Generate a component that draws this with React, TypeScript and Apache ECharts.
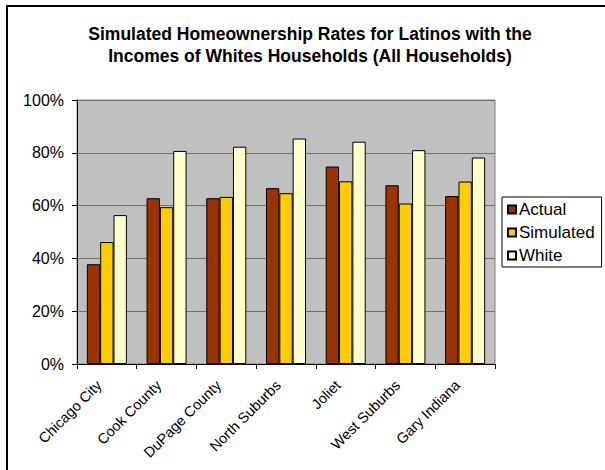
import React, { useEffect, useRef } from "react";
import * as echarts from "echarts";

const categories = [
  "Chicago City",
  "Cook County",
  "DuPage County",
  "North Suburbs",
  "Joliet",
  "West Suburbs",
  "Gary Indiana",
];
const actual = [37.8, 62.8, 62.8, 66.6, 74.8, 67.7, 63.6];
const simulated = [46.2, 59.4, 63.3, 64.7, 69.2, 60.8, 69.1];
const white = [56.4, 80.7, 82.3, 85.4, 84.2, 81.0, 78.2];
const yTicks = { min: 0, max: 100, interval: 20 };

const FONT = "'Liberation Sans', Arial, Helvetica, sans-serif";

export default function App() {
  const ref = useRef<HTMLDivElement>(null);

  useEffect(() => {
    if (!ref.current) return;
    const chart = echarts.init(ref.current, undefined, { renderer: "svg" });
    const barStyle = (color: string) => ({
      color,
      borderColor: "#000",
      borderWidth: 1,
    });
    chart.setOption({
      animation: false,
      backgroundColor: "#fff",
      textStyle: { fontFamily: FONT },
      title: {
        text: "Simulated Homeownership Rates for Latinos with the\nIncomes of Whites Households (All Households)",
        left: 305,
        top: 18,
        textAlign: "center",
        textStyle: {
          fontFamily: FONT,
          fontSize: 17.5,
          fontWeight: "bold",
          lineHeight: 22,
          color: "#000",
        },
      },
      graphic: [
        {
          type: "rect",
          shape: { x: 7, y: 6, width: 700, height: 600 },
          style: { fill: "none", stroke: "#000", lineWidth: 2 },
          silent: true,
        },
      ],
      legend: {
        orient: "vertical",
        left: 502,
        top: 197,
        itemWidth: 8,
        itemHeight: 8,
        itemGap: 6,
        padding: [4, 7, 3, 5],
        borderColor: "#000",
        borderWidth: 1,
        backgroundColor: "#fff",
        icon: "rect",
        textStyle: { fontFamily: FONT, fontSize: 17, color: "#000", padding: [0, 0, 0, -2] },
        data: ["Actual", "Simulated", "White"],
      },
      grid: {
        left: 77,
        top: 100,
        width: 418,
        height: 264,
        show: true,
        backgroundColor: "#C0C0C0",
        borderColor: "#808080",
        borderWidth: 1,
      },
      xAxis: {
        type: "category",
        data: categories,
        axisLine: { lineStyle: { color: "#000", width: 1 } },
        axisTick: { show: true, length: 5, lineStyle: { color: "#000" } },
        axisLabel: {
          rotate: 45,
          interval: 0,
          fontSize: 14.5,
          color: "#000",
          fontFamily: FONT,
          margin: 11,
          padding: [0, 11, 0, 0],
        },
      },
      yAxis: {
        type: "value",
        min: yTicks.min,
        max: yTicks.max,
        interval: yTicks.interval,
        axisLine: { show: true, lineStyle: { color: "#000", width: 1 } },
        axisTick: { show: true, length: 5, lineStyle: { color: "#000" } },
        axisLabel: {
          formatter: "{value}%",
          fontSize: 16,
          color: "#000",
          fontFamily: FONT,
          margin: 13,
        },
        splitLine: { show: true, lineStyle: { color: "#707070", width: 1 } },
      },
      series: [
        {
          name: "Actual",
          type: "bar",
          data: actual,
          barGap: "0%",
          barCategoryGap: "33%",
          itemStyle: barStyle("#993300"),
        },
        {
          name: "Simulated",
          type: "bar",
          data: simulated,
          barGap: "0%",
          barCategoryGap: "33%",
          itemStyle: barStyle("#FFCC00"),
        },
        {
          name: "White",
          type: "bar",
          data: white,
          barGap: "0%",
          barCategoryGap: "33%",
          itemStyle: barStyle("#FFFFCC"),
        },
      ],
    });
    return () => chart.dispose();
  }, []);

  return (
    <div
      ref={ref}
      style={{ position: "absolute", left: 0, top: 0, width: 605, height: 470 }}
    />
  );
}
